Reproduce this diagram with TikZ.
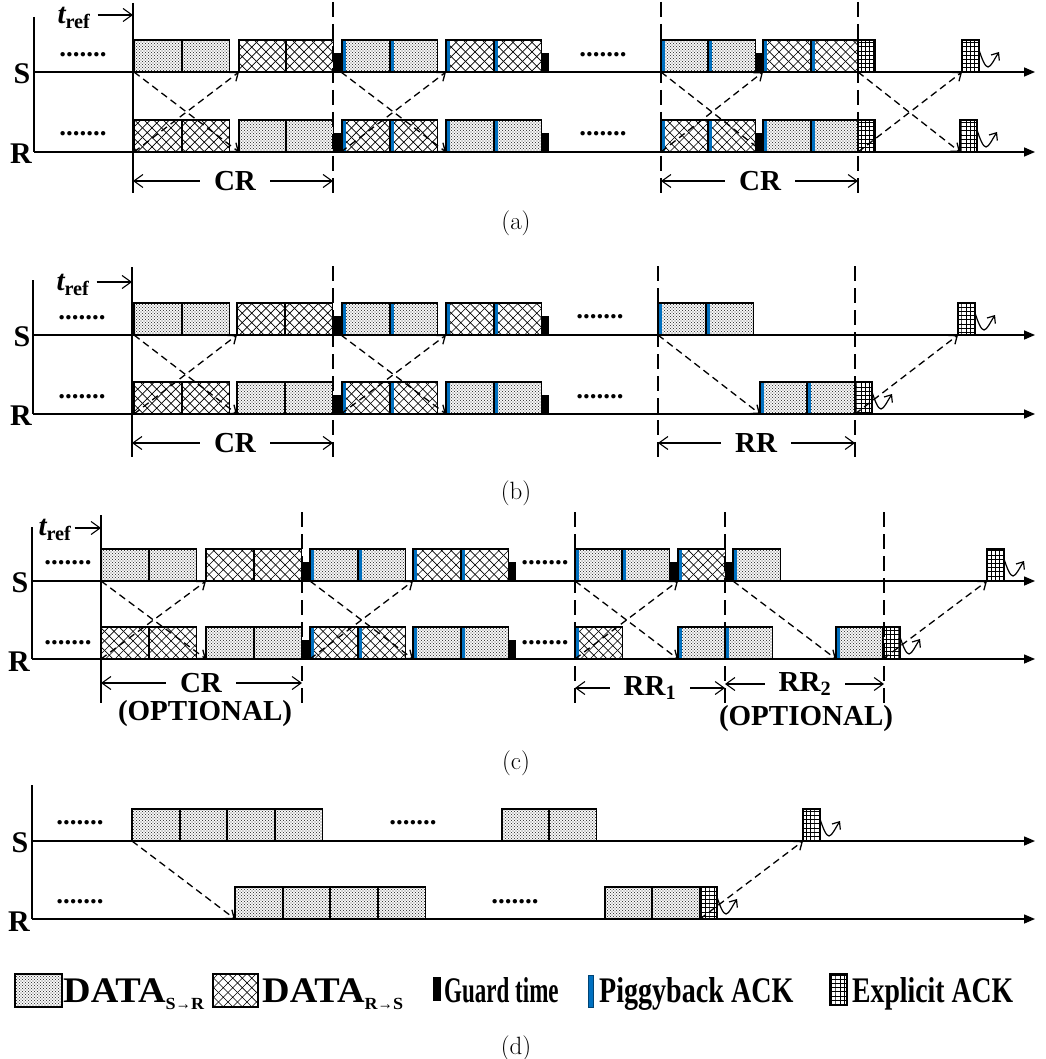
\documentclass[tikz,border=0pt]{standalone}
\usepackage{fontspec}
\usepackage{graphicx}
\usepackage{tikz}
\usetikzlibrary{arrows.meta,patterns,positioning}
\newfontfamily\tnr{Liberation Serif}
\newfontfamily\lmr{Latin Modern Roman}
\definecolor{pbblue}{RGB}{0,112,192}
% fill patterns of the slots
\pgfdeclarepatternformonly{stipple}{\pgfqpoint{-.6pt}{-.6pt}}{\pgfqpoint{3.6pt}{3.6pt}}{\pgfqpoint{3pt}{3pt}}{%
  \pgfpathcircle{\pgfqpoint{0pt}{0pt}}{.55pt}%
  \pgfpathcircle{\pgfqpoint{1.5pt}{1.5pt}}{.55pt}%
  \pgfusepath{fill}}
\pgfdeclarepatternformonly{xhatch}{\pgfqpoint{-1pt}{-1pt}}{\pgfqpoint{10.5pt}{10.5pt}}{\pgfqpoint{9.5pt}{9.5pt}}{%
  \pgfsetlinewidth{.7pt}%
  \pgfpathmoveto{\pgfqpoint{0pt}{0pt}}\pgfpathlineto{\pgfqpoint{9.5pt}{9.5pt}}%
  \pgfpathmoveto{\pgfqpoint{0pt}{9.5pt}}\pgfpathlineto{\pgfqpoint{9.5pt}{0pt}}%
  \pgfusepath{stroke}}
\pgfdeclarepatternformonly{ackgrid}{\pgfqpoint{-.5pt}{-.5pt}}{\pgfqpoint{4.7pt}{4.7pt}}{\pgfqpoint{4.2pt}{4.2pt}}{%
  \pgfsetlinewidth{.7pt}%
  \pgfpathmoveto{\pgfqpoint{0pt}{-.5pt}}\pgfpathlineto{\pgfqpoint{0pt}{4.7pt}}%
  \pgfpathmoveto{\pgfqpoint{-.5pt}{0pt}}\pgfpathlineto{\pgfqpoint{4.7pt}{0pt}}%
  \pgfusepath{stroke}}
\newcommand{\lgsub}[2]{\raisebox{-7pt}{\fontsize{17}{17}\selectfont #1\scalebox{.85}[1]{→}#2}}

\begin{document}
\begin{tikzpicture}[x=1pt, y=-1pt,
  slot/.style={draw, line width=1.6pt, minimum width=47.5pt, minimum height=32pt, inner sep=0pt, outer sep=0pt, anchor=south west},
  sr/.style={slot, pattern=stipple, pattern color=black!75},
  rs/.style={slot, pattern=xhatch},
  pb/.style={path picture={\fill[pbblue] (path picture bounding box.south west) rectangle ([xshift=3.6pt]path picture bounding box.north west);}},
  guard/.style={fill=black, minimum width=8pt, minimum height=19pt, inner sep=0pt, outer sep=0pt, anchor=south west},
  ack/.style={draw, line width=1.4pt, pattern=ackgrid, minimum width=17pt, minimum height=32pt, inner sep=0pt, outer sep=0pt, anchor=south west},
  lbl/.style={font=\tnr\bfseries\fontsize{29}{29}\selectfont, inner sep=0pt},
  axlbl/.style={font=\tnr\bfseries\fontsize{30}{30}\selectfont, inner sep=0pt},
  dimlbl/.style={lbl, inner xsep=14pt},
  dots/.style={font=\tnr\bfseries\fontsize{27}{27}\selectfont, inner sep=0pt},
  subcap/.style={font=\lmr\fontsize{25}{25}\selectfont, inner sep=0pt},
  lgtext/.style={font=\tnr\bfseries\fontsize{36}{36}\selectfont, inner sep=0pt, anchor=base west},
  axisline/.style={line width=1.5pt},
  axisarrow/.style={line width=1.5pt, -{Triangle[length=11pt,width=9pt]}},
  tline/.style={line width=1.8pt},
  bound/.style={line width=1.6pt, dash pattern=on 15pt off 7pt},
  dim/.style={line width=1.1pt, -{Straight Barb[length=9pt,width=13pt]}},
  msg/.style={line width=1.3pt, dash pattern=on 7pt off 4.5pt, -{Straight Barb[length=7pt,width=11pt]}},
  squig/.style={line width=1.2pt, -{Straight Barb[length=6pt,width=10pt]}}]
\useasboundingbox (0,0) rectangle (1045,1059);

%%% (a)
\coordinate (aO) at (34,17);
\coordinate (aSo) at (34,72);
\coordinate (aSe) at (1035,72);
\coordinate (aRo) at (34,152);
\coordinate (aRe) at (1035,152);
\draw[axisline] (aO) -- (aRo);
\draw[axisarrow] (aSo) -- (aSe);
\draw[axisarrow] (aRo) -- (aRe);
\node[axlbl] (aS) at (22,74) {S};
\node[axlbl] (aR) at (21,154) {R};
\node[dots] (aSd1) at (83,55) {.......};
\node[dots] (aRd1) at (83,134) {.......};
% sender row
\node[sr] (aS1) at (134,72) {};
\node[sr] (aS2) at (182,72) {};
\node[rs] (aS3) at (239,72) {};
\node[rs] (aS4) at (286,72) {};
\node[guard] (aSg1) at (333,72) {};
\node[sr,pb] (aS5) at (342,72) {};
\node[sr,pb] (aS6) at (390,72) {};
\node[rs,pb] (aS7) at (446,72) {};
\node[rs,pb] (aS8) at (494,72) {};
\node[guard] (aSg2) at (541,72) {};
\node[dots] (aSd2) at (603,55) {.......};
\node[sr,pb] (aS9) at (661,72) {};
\node[sr,pb] (aS10) at (708,72) {};
\node[guard] (aSg3) at (755,72) {};
\node[rs,pb] (aS11) at (763,72) {};
\node[rs,pb] (aS12) at (811,72) {};
\node[ack] (aSk1) at (858,72) {};
\node[ack] (aSk2) at (962,72) {};
% receiver row
\node[rs] (aR1) at (134,152) {};
\node[rs] (aR2) at (182,152) {};
\node[sr] (aR3) at (239,152) {};
\node[sr] (aR4) at (286,152) {};
\node[guard] (aRg1) at (333,152) {};
\node[rs,pb] (aR5) at (342,152) {};
\node[rs,pb] (aR6) at (390,152) {};
\node[sr,pb] (aR7) at (446,152) {};
\node[sr,pb] (aR8) at (494,152) {};
\node[guard] (aRg2) at (541,152) {};
\node[dots] (aRd2) at (603,134) {.......};
\node[rs,pb] (aR9) at (661,152) {};
\node[rs,pb] (aR10) at (708,152) {};
\node[guard] (aRg3) at (755,152) {};
\node[sr,pb] (aR11) at (763,152) {};
\node[sr,pb] (aR12) at (811,152) {};
\node[ack] (aRk1) at (858,152) {};
\node[ack] (aRk2) at (960,152) {};
% rounds
\coordinate (aB0t) at (133,3);   \coordinate (aB0b) at (133,193);
\coordinate (aB1t) at (333,2);   \coordinate (aB1b) at (333,193);
\coordinate (aB2t) at (661,2);   \coordinate (aB2b) at (661,193);
\coordinate (aB3t) at (858,2);   \coordinate (aB3b) at (858,193);
\draw[tline] (aB0t) -- (aB0b);
\draw[bound] (aB1t) -- (aB1b);
\draw[bound] (aB2t) -- (aB2b);
\draw[bound] (aB3t) -- (aB3b);
\node[lbl] (aTr) at (74,18) {{\itshape t}\textsubscript{ref}};
\coordinate (aTa) at ([xshift=7pt,yshift=3pt]aTr.east);
\draw[dim] (aTa) -- (aB0t |- aTa);
\node[dimlbl] (aCR1) at (235,181) {CR};
\draw[dim] (aCR1.west) -- (aB0b |- aCR1.west);
\draw[dim] (aCR1.east) -- (aB1b |- aCR1.east);
\node[dimlbl] (aCR2) at (760,181) {CR};
\draw[dim] (aCR2.west) -- (aB2b |- aCR2.west);
\draw[dim] (aCR2.east) -- (aB3b |- aCR2.east);
% messages
\draw[msg] (aS1.south west) -- (aR3.south west);
\draw[msg] (aR1.south west) -- (aS3.south west);
\draw[msg] (aSg1.south east) -- (aR7.south west);
\draw[msg] (aRg1.south east) -- (aS7.south west);
\draw[msg] (aS9.south west) -- (aR11.south west);
\draw[msg] (aR9.south west) -- (aS11.south west);
\draw[msg] (aSk1.south west) -- (aRk2.south west);
\draw[msg] (aRk1.south west) -- (aSk2.south west);
\draw[squig] ([yshift=-10pt]aSk2.north east) .. controls +(3,9) and +(-3,0) .. ++(9,17) .. controls +(3,0) and +(-4,6) .. ++(11,-15);
\draw[squig] ([yshift=-10pt]aRk2.north east) .. controls +(3,9) and +(-3,0) .. ++(9,17) .. controls +(3,0) and +(-4,6) .. ++(11,-15);
\node[subcap] (aCap) at (516,223) {(a)};

%%% (b)
\coordinate (bO) at (33,280);
\coordinate (bSo) at (33,335);
\coordinate (bSe) at (1035,335);
\coordinate (bRo) at (33,414);
\coordinate (bRe) at (1035,414);
\draw[axisline] (bO) -- (bRo);
\draw[axisarrow] (bSo) -- (bSe);
\draw[axisarrow] (bRo) -- (bRe);
\node[axlbl] (bS) at (22,337) {S};
\node[axlbl] (bR) at (21,416) {R};
\node[dots] (bSd1) at (82,318) {.......};
\node[dots] (bRd1) at (82,397) {.......};
% sender row
\node[sr] (bS1) at (134,335) {};
\node[sr] (bS2) at (182,335) {};
\node[rs] (bS3) at (237,335) {};
\node[rs] (bS4) at (285,335) {};
\node[guard] (bSg1) at (333,335) {};
\node[sr,pb] (bS5) at (342,335) {};
\node[sr,pb] (bS6) at (390,335) {};
\node[rs,pb] (bS7) at (446,335) {};
\node[rs,pb] (bS8) at (494,335) {};
\node[guard] (bSg2) at (541,335) {};
\node[dots] (bSd2) at (600,317) {.......};
\node[sr,pb] (bS9) at (658,335) {};
\node[sr,pb] (bS10) at (706,335) {};
\node[ack] (bSk1) at (958,335) {};
% receiver row
\node[rs] (bR1) at (134,414) {};
\node[rs] (bR2) at (182,414) {};
\node[sr] (bR3) at (237,414) {};
\node[sr] (bR4) at (285,414) {};
\node[guard] (bRg1) at (333,414) {};
\node[rs,pb] (bR5) at (342,414) {};
\node[rs,pb] (bR6) at (390,414) {};
\node[sr,pb] (bR7) at (446,414) {};
\node[sr,pb] (bR8) at (494,414) {};
\node[guard] (bRg2) at (541,414) {};
\node[dots] (bRd2) at (600,397) {.......};
\node[sr,pb] (bR9) at (760,414) {};
\node[sr,pb] (bR10) at (807,414) {};
\node[ack] (bRk1) at (855,414) {};
% rounds
\coordinate (bB0t) at (132,267);  \coordinate (bB0b) at (132,457);
\coordinate (bB1t) at (333,266);  \coordinate (bB1b) at (333,457);
\coordinate (bB2t) at (658,266);  \coordinate (bB2b) at (658,457);
\coordinate (bB3t) at (855,266);  \coordinate (bB3b) at (855,457);
\draw[tline] (bB0t) -- (bB0b);
\draw[bound] (bB1t) -- (bB1b);
\draw[bound] (bB2t) -- (bB2b);
\draw[bound] (bB3t) -- (bB3b);
\node[lbl] (bTr) at (73,285) {{\itshape t}\textsubscript{ref}};
\coordinate (bTa) at ([xshift=7pt,yshift=3pt]bTr.east);
\draw[dim] (bTa) -- (bB0t |- bTa);
\node[dimlbl] (bCR) at (235,443) {CR};
\draw[dim] (bCR.west) -- (bB0b |- bCR.west);
\draw[dim] (bCR.east) -- (bB1b |- bCR.east);
\node[dimlbl] (bRR) at (756,443) {RR};
\draw[dim] (bRR.west) -- (bB2b |- bRR.west);
\draw[dim] (bRR.east) -- (bB3b |- bRR.east);
% messages
\draw[msg] (bS1.south west) -- (bR3.south west);
\draw[msg] (bR1.south west) -- (bS3.south west);
\draw[msg] (bSg1.south east) -- (bR7.south west);
\draw[msg] (bRg1.south east) -- (bS7.south west);
\draw[msg] (bS9.south west) -- (bR9.south west);
\draw[msg] (bRk1.south west) -- (bSk1.south west);
\draw[squig] ([yshift=-10pt]bSk1.north east) .. controls +(3,9) and +(-3,0) .. ++(9,17) .. controls +(3,0) and +(-4,6) .. ++(11,-15);
\draw[squig] ([yshift=-10pt]bRk1.north east) .. controls +(3,9) and +(-3,0) .. ++(9,17) .. controls +(3,0) and +(-4,6) .. ++(11,-15);
\node[subcap] (bCap) at (516,493) {(b)};

%%% (c)
\coordinate (cO) at (32,527);
\coordinate (cSo) at (32,581);
\coordinate (cSe) at (1035,581);
\coordinate (cRo) at (32,659);
\coordinate (cRe) at (1035,659);
\draw[axisline] (cO) -- (cRo);
\draw[axisarrow] (cSo) -- (cSe);
\draw[axisarrow] (cRo) -- (cRe);
\node[axlbl] (cS) at (20,583) {S};
\node[axlbl] (cR) at (19,662) {R};
\node[dots] (cSd1) at (68,563) {.......};
\node[dots] (cRd1) at (68,643) {.......};
% sender row
\node[sr] (cS1) at (101,581) {};
\node[sr] (cS2) at (149,581) {};
\node[rs] (cS3) at (206,581) {};
\node[rs] (cS4) at (254,581) {};
\node[guard] (cSg1) at (302,581) {};
\node[sr,pb] (cS5) at (310,581) {};
\node[sr,pb] (cS6) at (358,581) {};
\node[rs,pb] (cS7) at (413,581) {};
\node[rs,pb] (cS8) at (461,581) {};
\node[guard] (cSg2) at (508,581) {};
\node[dots] (cSd2) at (545,563) {.......};
\node[sr,pb] (cS9) at (575,581) {};
\node[sr,pb] (cS10) at (622,581) {};
\node[guard] (cSg3) at (669,581) {};
\node[rs,pb] (cS11) at (678,581) {};
\node[guard] (cSg4) at (725,581) {};
\node[sr,pb] (cS12) at (733,581) {};
\node[ack] (cSk1) at (987,581) {};
% receiver row
\node[rs] (cR1) at (101,659) {};
\node[rs] (cR2) at (149,659) {};
\node[sr] (cR3) at (206,659) {};
\node[sr] (cR4) at (254,659) {};
\node[guard] (cRg1) at (302,659) {};
\node[rs,pb] (cR5) at (310,659) {};
\node[rs,pb] (cR6) at (358,659) {};
\node[sr,pb] (cR7) at (413,659) {};
\node[sr,pb] (cR8) at (461,659) {};
\node[guard] (cRg2) at (508,659) {};
\node[dots] (cRd2) at (545,643) {.......};
\node[rs,pb] (cR9) at (575,659) {};
\node[sr,pb] (cR10) at (678,659) {};
\node[sr,pb] (cR11) at (725,659) {};
\node[sr,pb] (cR12) at (836,659) {};
\node[ack] (cRk1) at (883,659) {};
% rounds
\coordinate (cB0t) at (101,515);  \coordinate (cB0b) at (101,703);
\coordinate (cB1t) at (302,512);  \coordinate (cB1b) at (302,705);
\coordinate (cB2t) at (575,512);  \coordinate (cB2b) at (575,705);
\coordinate (cB3t) at (725,512);  \coordinate (cB3b) at (725,705);
\coordinate (cB4t) at (884,512);  \coordinate (cB4b) at (884,705);
\draw[tline] (cB0t) -- (cB0b);
\draw[bound] (cB1t) -- (cB1b);
\draw[bound] (cB2t) -- (cB2b);
\draw[bound] (cB3t) -- (cB3b);
\draw[bound] (cB4t) -- (cB4b);
\node[lbl] (cTr) at (55,530) {{\itshape t}\textsubscript{ref}};
\coordinate (cTa) at ([xshift=3pt,yshift=2pt]cTr.east);
\draw[dim] (cTa) -- (cB0t |- cTa);
\node[dimlbl] (cCR) at (201,683) {CR};
\draw[dim] (cCR.west) -- (cB0b |- cCR.west);
\draw[dim] (cCR.east) -- (cB1b |- cCR.east);
\node[lbl] (cOpt1) at (205,714) {(OPTIONAL)};
\node[dimlbl] (cRR1) at (650,688) {RR\textsubscript{1}};
\draw[dim] (cRR1.west) -- (cB2b |- cRR1.west);
\draw[dim] (cRR1.east) -- (cB3b |- cRR1.east);
\node[dimlbl] (cRR2) at (805,684) {RR\textsubscript{2}};
\draw[dim] (cRR2.west) -- (cB3b |- cRR2.west);
\draw[dim] (cRR2.east) -- (cB4b |- cRR2.east);
\node[lbl] (cOpt2) at (806,719) {(OPTIONAL)};
% messages
\draw[msg] (cS1.south west) -- (cR3.south west);
\draw[msg] (cR1.south west) -- (cS3.south west);
\draw[msg] (cSg1.south east) -- (cR7.south west);
\draw[msg] (cRg1.south east) -- (cS7.south west);
\draw[msg] (cS9.south west) -- (cR10.south west);
\draw[msg] (cR9.south west) -- (cS11.south west);
\draw[msg] (cSg4.south east) -- (cR12.south west);
\draw[msg] (cRk1.south west) -- (cSk1.south west);
\draw[squig] ([yshift=-10pt]cSk1.north east) .. controls +(3,9) and +(-3,0) .. ++(9,17) .. controls +(3,0) and +(-4,6) .. ++(11,-15);
\draw[squig] ([yshift=-10pt]cRk1.north east) .. controls +(3,9) and +(-3,0) .. ++(9,17) .. controls +(3,0) and +(-4,6) .. ++(11,-15);
\node[subcap] (cCap) at (516,763) {(c)};

%%% (d)
\coordinate (dO) at (32,785);
\coordinate (dSo) at (32,841);
\coordinate (dSe) at (1035,841);
\coordinate (dRo) at (32,919);
\coordinate (dRe) at (1035,919);
\draw[axisline] (dO) -- (dRo);
\draw[axisarrow] (dSo) -- (dSe);
\draw[axisarrow] (dRo) -- (dRe);
\node[axlbl] (dS) at (20,843) {S};
\node[axlbl] (dR) at (19,922) {R};
\node[dots] (dSd1) at (80,823) {.......};
\node[dots] (dRd1) at (80,902) {.......};
\node[sr] (dS1) at (132,841) {};
\node[sr] (dS2) at (180,841) {};
\node[sr] (dS3) at (227,841) {};
\node[sr] (dS4) at (275,841) {};
\node[dots] (dSd2) at (413,823) {.......};
\node[sr] (dS5) at (502,841) {};
\node[sr] (dS6) at (549,841) {};
\node[ack] (dSk1) at (803,841) {};
\node[sr] (dR1) at (235,919) {};
\node[sr] (dR2) at (283,919) {};
\node[sr] (dR3) at (330,919) {};
\node[sr] (dR4) at (378,919) {};
\node[dots] (dRd2) at (515,902) {.......};
\node[sr] (dR5) at (605,919) {};
\node[sr] (dR6) at (652,919) {};
\node[ack] (dRk1) at (700,919) {};
\draw[msg] (dS1.south west) -- (dR1.south west);
\draw[msg] (dRk1.south west) -- (dSk1.south west);
\draw[squig] ([yshift=-10pt]dSk1.north east) .. controls +(3,9) and +(-3,0) .. ++(9,17) .. controls +(3,0) and +(-4,6) .. ++(11,-15);
\draw[squig] ([yshift=-10pt]dRk1.north east) .. controls +(3,9) and +(-3,0) .. ++(9,17) .. controls +(3,0) and +(-4,6) .. ++(11,-15);

% legend
\node[sr, minimum width=47pt, minimum height=33pt] (lgSR) at (15,1007) {};
\node[lgtext, xscale=1.06] (lgSRt) at (63,1002) {DATA\lgsub{S}{R}};
\node[rs, minimum width=45pt, minimum height=33pt] (lgRS) at (213,1007) {};
\node[lgtext, xscale=1.06] (lgRSt) at (262,1002) {DATA\lgsub{R}{S}};
\node[guard, minimum height=24pt] (lgG) at (433,1001) {};
\node[lgtext, xscale=.64] (lgGt) at (444,1002) {Guard time};
\node[fill=pbblue, draw=pbblue!60!black, line width=.4pt, minimum width=5pt, minimum height=32pt, inner sep=0pt, anchor=south west] (lgP) at (588,1007) {};
\node[lgtext, xscale=.78] (lgPt) at (599,1002) {Piggyback ACK};
\node[ack, minimum height=31pt] (lgK) at (830,1005) {};
\node[lgtext, xscale=.77] (lgKt) at (852,1002) {Explicit ACK};
\node[subcap] (dCap) at (516,1048) {(d)};
\end{tikzpicture}
\end{document}
